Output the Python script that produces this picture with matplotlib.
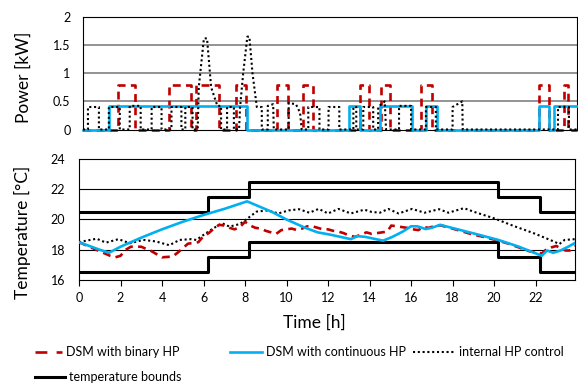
import matplotlib
matplotlib.use("Agg")
import matplotlib.pyplot as plt
from matplotlib.lines import Line2D

plt.rcParams['font.family'] = ['Lato', 'DejaVu Sans']

RED = '#C00000'
BLUE = '#00B0F0'

# power [kW] - step change times [h] and levels
binary_t = [0, 1.68, 2.5, 4.18, 5.24, 5.48, 6.59, 7.38, 7.88, 9.38, 9.9, 10.65, 11.15,
            13.4, 13.85, 14.4, 14.86, 16.35, 16.9, 22.07, 22.55, 23.27, 23.45, 23.9]
binary_p = [0, 0.8, 0, 0.8, 0, 0.8, 0, 0.8, 0, 0.8, 0, 0.8, 0,
            0.8, 0, 0.8, 0, 0.8, 0, 0.8, 0, 0.8, 0, 0]

cont_t = [0, 1.25, 7.93, 12.88, 13.41, 14.38, 15.91, 16.59, 17.12, 22.07, 22.55, 22.79, 23.9]
cont_p = [0, 0.41, 0, 0.41, 0, 0.41, 0, 0.41, 0, 0.41, 0, 0.41, 0.41]

# internal HP control power, vertices
internal_t = [0, 0.24, 0.24, 0.77, 0.77, 1.25, 1.25, 1.78, 1.78, 2.26, 2.26, 2.79, 2.79,
              3.32, 3.32, 3.8, 3.8, 4.28, 4.28, 4.76, 4.76, 4.95, 4.95, 5.3, 5.3, 5.55,
              5.6, 5.85, 6.0, 6.2, 6.5, 6.68, 6.68, 6.97, 6.97, 7.3, 7.3, 7.55, 7.6, 7.75,
              7.95, 8.05, 8.2, 8.41, 8.65, 8.65, 8.94, 8.94, 9.2, 9.23, 9.95, 9.95, 10.3,
              10.5, 10.58, 10.9, 10.9, 11.44, 11.44, 11.88, 11.88, 12.4, 12.4, 13.08, 13.08,
              13.22, 13.22, 13.56, 13.56, 14.04, 14.04, 14.28, 14.28, 14.6, 14.66, 15.29,
              15.29, 15.87, 15.87, 16.59, 16.59, 17.07, 17.07, 17.88, 17.88, 18.35, 18.37,
              22.98, 22.98, 23.51, 23.51, 23.9]
internal_p = [0, 0, 0.4, 0.4, 0, 0, 0.4, 0.4, 0, 0, 0.42, 0.42, 0,
              0, 0.4, 0.4, 0, 0, 0.4, 0.4, 0, 0, 0.4, 0.4, 0, 0,
              0.75, 1.62, 1.62, 0.75, 0.42, 0.42, 0, 0, 0.4, 0.4, 0, 0, 0.4, 1.0,
              1.65, 1.65, 1.0, 0.4, 0.4, 0, 0, 0.42, 0.45, 0, 0, 0.47, 0.45,
              0.3, 0, 0, 0.4, 0.4, 0, 0, 0.4, 0.4, 0, 0, 0.4,
              0.4, 0, 0, 0.4, 0.4, 0, 0, 0.4, 0.5, 0, 0,
              0.42, 0.42, 0, 0, 0.4, 0.4, 0, 0, 0.4, 0.5, 0,
              0, 0.4, 0.4, 0, 0]

# temperatures [°C]
binary_tt = [0, 0.5, 1.0, 1.5, 1.75, 2.0, 2.25, 2.5, 3.0, 3.5, 3.75, 4.0, 4.5, 4.75, 5.0,
             5.25, 5.5, 5.75, 6.0, 6.25, 6.5, 6.75, 7.0, 7.25, 7.5, 7.75, 8.0, 8.25, 8.5,
             8.75, 9.0, 9.25, 9.5, 9.75, 10.0, 10.25, 10.5, 10.75, 11.0, 11.25, 11.5, 11.75,
             12.0, 12.25, 12.5, 12.75, 13.0, 13.3, 13.6, 13.85, 14.1, 14.35, 14.6, 14.85,
             15.05, 15.3, 15.55, 15.8, 16.1, 16.35, 16.6, 16.85, 17.1, 17.4, 18.0, 18.5,
             19.0, 19.5, 20.2, 20.7, 21.2, 21.7, 22.3, 22.5, 22.75, 23.0, 23.2, 23.45, 23.65, 23.9]
binary_T = [18.5, 18.2, 17.9, 17.6, 17.5, 17.6, 18.0, 18.2, 18.2, 17.9, 17.7, 17.5, 17.55, 17.8, 18.1,
            18.4, 18.45, 18.5, 18.9, 19.1, 19.4, 19.65, 19.6, 19.45, 19.35, 19.5, 19.85, 19.6, 19.45,
            19.4, 19.25, 19.15, 19.05, 19.3, 19.35, 19.4, 19.3, 19.4, 19.55, 19.55, 19.45, 19.35,
            19.35, 19.25, 19.2, 19.1, 18.95, 18.85, 19.0, 19.15, 19.05, 19.1, 19.15, 19.2,
            19.6, 19.55, 19.5, 19.45, 19.35, 19.3, 19.5, 19.45, 19.55, 19.62, 19.4, 19.2,
            19.0, 18.85, 18.6, 18.4, 18.15, 17.9, 17.75, 18.0, 18.15, 18.25, 18.1, 17.95, 17.95, 18.25]

cont_tt = [0, 0.5, 1.0, 1.45, 2.0, 3.0, 4.0, 5.0, 6.0, 7.0, 8.1, 9.3, 10.0, 10.9, 11.5, 12.1,
           12.6, 13.1, 13.4, 13.8, 14.65, 15.1, 15.6, 16.0, 16.3, 16.7, 17.0, 17.4, 18.1, 19.1,
           20.2, 21.2, 22.3, 22.55, 22.85, 23.2, 23.57, 23.9]
cont_T = [18.5, 18.25, 18.0, 17.8, 18.2, 18.8, 19.35, 19.85, 20.3, 20.7, 21.2, 20.5, 20.0, 19.45, 19.15, 19.0,
          18.85, 18.7, 18.9, 18.85, 18.6, 18.85, 19.2, 19.55, 19.55, 19.37, 19.45, 19.65, 19.4, 19.05,
          18.65, 18.2, 17.6, 17.95, 17.8, 17.95, 18.2, 18.45]

internal_tt = [0, 0.35, 0.85, 1.3, 1.9, 2.45, 3.1, 3.7, 4.35, 4.85, 5.4, 5.65, 6.0, 6.45, 6.9,
               7.25, 7.75, 8.25, 8.55, 9.1, 9.6, 10.1, 10.6, 11.1, 11.55, 12.0, 12.5, 13.1,
               13.75, 14.1, 14.5, 14.9, 15.4, 16.05, 16.65, 17.35, 17.8, 18.55, 19.05, 20.0,
               20.95, 21.9, 22.7, 23.15, 23.4, 23.9]
internal_T = [18.5, 18.6, 18.73, 18.47, 18.7, 18.43, 18.65, 18.55, 18.3, 18.65, 18.7, 18.65, 18.98, 19.4, 19.75,
              19.53, 19.7, 20.2, 20.52, 20.6, 20.4, 20.6, 20.68, 20.45, 20.7, 20.4, 20.7, 20.4,
              20.65, 20.5, 20.45, 20.7, 20.4, 20.7, 20.45, 20.68, 20.45, 20.75, 20.5, 20.08,
              19.57, 19.1, 18.65, 18.38, 18.65, 18.7]

bound_t = [0, 6.2, 8.2, 20.2, 22.2, 23.9]
lower_T = [16.5, 17.5, 18.5, 17.5, 16.5, 16.5]
upper_T = [20.5, 21.5, 22.5, 21.5, 20.5, 20.5]

fig = plt.figure(figsize=(5.78, 3.85), dpi=100)
ax1 = fig.add_axes([83 / 578, 1 - 129.5 / 385, 494 / 578, 112.5 / 385])
ax2 = fig.add_axes([79 / 578, 1 - 280 / 385, 496 / 578, 121 / 385])

# ---- power ----
for y in [0.5, 1.0, 1.5]:
    ax1.axhline(y, color='#808080', lw=1.2, zorder=0)
ax1.step(cont_t, cont_p, where='post', color=BLUE, lw=1.9, clip_on=False, zorder=3)
ax1.step(binary_t, binary_p, where='post', color=RED, lw=1.9, ls=(0, (3, 2)),
         clip_on=False, zorder=2)
ax1.plot(internal_t, internal_p, color='black', lw=1.5, ls=(0, (1, 1.3)),
         clip_on=False, zorder=4)
ax1.set_xlim(0, 23.9)
ax1.set_ylim(0, 2)
ax1.set_yticks([0, 0.5, 1, 1.5, 2])
ax1.set_yticklabels(['0', '0.5', '1', '1.5', '2'])
ax1.set_xticks([])
ax1.tick_params(axis='y', length=0, pad=9, labelsize=9)
for s in ax1.spines.values():
    s.set_color('black')
    s.set_linewidth(0.8)

# ---- temperature ----
for y in [18, 20, 22]:
    ax2.axhline(y, color='black', lw=0.8, zorder=0)
ax2.step(bound_t, lower_T, where='post', color='black', lw=2.2, zorder=2)
ax2.step(bound_t, upper_T, where='post', color='black', lw=2.2, zorder=2)
ax2.plot(internal_tt, internal_T, color='black', lw=1.5, ls=(0, (1, 1.3)), zorder=3)
ax2.plot(binary_tt, binary_T, color=RED, lw=1.9, ls=(0, (3, 2)), zorder=3)
ax2.plot(cont_tt, cont_T, color=BLUE, lw=1.9, zorder=4)
ax2.set_xlim(0, 23.9)
ax2.set_ylim(16, 24)
ax2.set_xticks(range(0, 24, 2))
ax2.set_yticks([16, 18, 20, 22, 24])
ax2.tick_params(axis='x', direction='out', length=4, width=0.8, pad=5, labelsize=9)
ax2.tick_params(axis='y', length=0, pad=10, labelsize=9)
for s in ax2.spines.values():
    s.set_color('black')
    s.set_linewidth(0.8)

fig.text(24 / 578, 1 - 77 / 385, 'Power [kW]', rotation=90, ha='center', va='center', fontsize=12.5)
fig.text(22 / 578, 1 - 232 / 385, 'Temperature [°C]', rotation=90, ha='center', va='center',
         fontsize=12.5)
fig.text(314 / 578, 1 - 323 / 385, 'Time [h]', ha='center', va='center', fontsize=12.5)

# ---- legend (drawn by hand to keep Excel spacing) ----
def leg(x0, x1, y, text, **kw):
    fy = 1 - y / 385
    fig.add_artist(Line2D([x0 / 578, x1 / 578], [fy, fy], transform=fig.transFigure, **kw))
    fig.text(x1 / 578 + 4 / 578, fy, text, ha='left', va='center', fontsize=9)

leg(35, 62, 352, 'DSM with binary HP', color=RED, lw=1.9, ls=(0, (4.5, 3.5)))
leg(230, 262, 352, 'DSM with continuous HP', color=BLUE, lw=1.9)
leg(413, 455, 352, 'internal HP control', color='black', lw=1.5, ls=(0, (1, 1.3)))
leg(35, 65, 377, 'temperature bounds', color='black', lw=2.2)

fig.savefig('out.png', dpi=100)
